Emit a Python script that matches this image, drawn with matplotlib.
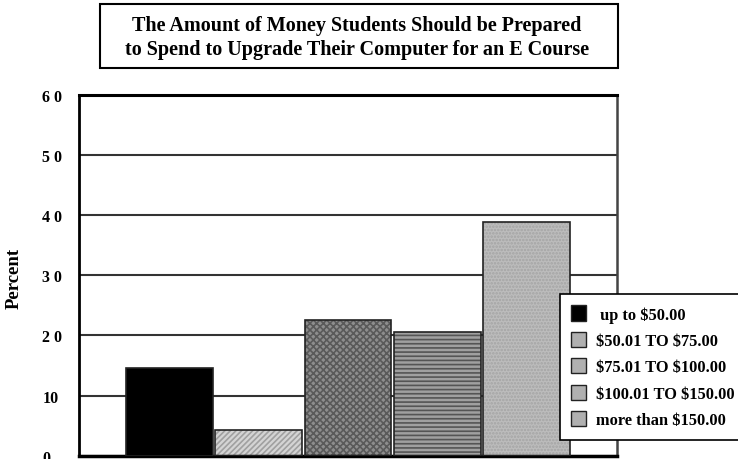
import matplotlib.pyplot as plt
from matplotlib.patches import Rectangle
import numpy as np

plt.rcParams['font.family'] = ['Liberation Serif', 'DejaVu Serif']
plt.rcParams['font.weight'] = 'bold'

categories = [r' up to \$50.00', r'\$50.01 TO \$75.00', r'\$75.01 TO \$100.00',
              r'\$100.01 TO \$150.00', r'more than \$150.00']
percent = [14.6, 4.3, 22.5, 20.6, 38.9]
fills = ['#000000', '#d4d4d4', '#8e8e8e', '#a0a0a0', '#bcbcbc']
hatch_cols = ['#000000', '#a0a0a0', '#5a5a5a', '#555555', '#a4a4a4']
hatches = [None, '//////', 'xxxxx', '----', '.....']
yticks = [0, 10, 20, 30, 40, 50, 60]
ytick_labels = ['0', '10', '2 0', '3 0', '4 0', '5 0', '6 0']

W, H = 738, 460
fig = plt.figure(figsize=(W / 100, H / 100), dpi=100)
ax = fig.add_axes([79 / W, 1 - 456.7 / H, 538 / W, (456.7 - 96) / H])

plt.rcParams['hatch.linewidth'] = 1.2
slot = 89.2 / 538
x = (np.arange(len(percent)) - 2) * slot
for xi, v, fc, hc, ht in zip(x, percent, fills, hatch_cols, hatches):
    ax.bar(xi, v, width=slot * 0.975, color=fc, edgecolor=hc, hatch=ht,
           linewidth=0, zorder=2)
    ax.bar(xi, v, width=slot * 0.975, facecolor='none', edgecolor='#222222',
           linewidth=1.2, zorder=3)

ax.set_xlim(-0.5, 0.5)
ax.set_ylim(0, 60)
ax.set_yticks(yticks)
ax.set_yticklabels(ytick_labels, fontsize=11.5, fontweight='bold')
ax.set_xticks([0])
ax.set_xticklabels([''])
ax.tick_params(axis='x', direction='in', length=10, width=1, color='#222222')
ax.tick_params(axis='y', length=0, pad=26.5)
for lbl in ax.get_yticklabels():
    lbl.set_horizontalalignment('left')
ax.yaxis.grid(True, color='#333333', linewidth=1.5, zorder=1)
ax.set_axisbelow(True)
ax.spines['left'].set_linewidth(2)
ax.spines['top'].set_linewidth(2.2)
ax.spines['right'].set_color('#444444')
ax.spines['right'].set_linewidth(1.8)
ax.spines['bottom'].set_linewidth(2.5)
fig.text(14 / W, 1 - 278 / H, 'Percent', rotation=90, ha='center', va='center',
         fontsize=13.5, fontweight='bold')

# legend handles
handles = []
for fc in fills:
    handles.append(Rectangle((0, 0), 1, 1, facecolor=fc if fc == '#000000' else '#b0b0b0',
                             edgecolor='#222222', linewidth=1))
leg = fig.legend(handles, categories, loc='upper left',
                 bbox_to_anchor=(560 / W, 1 - 295 / H), frameon=True,
                 fancybox=False, framealpha=1, edgecolor='black',
                 prop={'size': 11.8, 'weight': 'bold'},
                 handlelength=0.9, handleheight=1.05, handletextpad=0.6,
                 labelspacing=0.56, borderpad=0.7, borderaxespad=0)
leg.get_frame().set_linewidth(1.2)

# title box
fig.patches.append(Rectangle((100 / W, 1 - 69 / H), 518 / W, 64 / H,
                             transform=fig.transFigure, facecolor='white',
                             edgecolor='black', linewidth=1.5))
fig.text(357 / W, 1 - 38 / H,
         'The Amount of Money Students Should be Prepared\n'
         'to Spend to Upgrade Their Computer for an E Course',
         ha='center', va='center', fontsize=14.5, fontweight='bold',
         linespacing=1.2)

fig.savefig('out.png', dpi=100)
